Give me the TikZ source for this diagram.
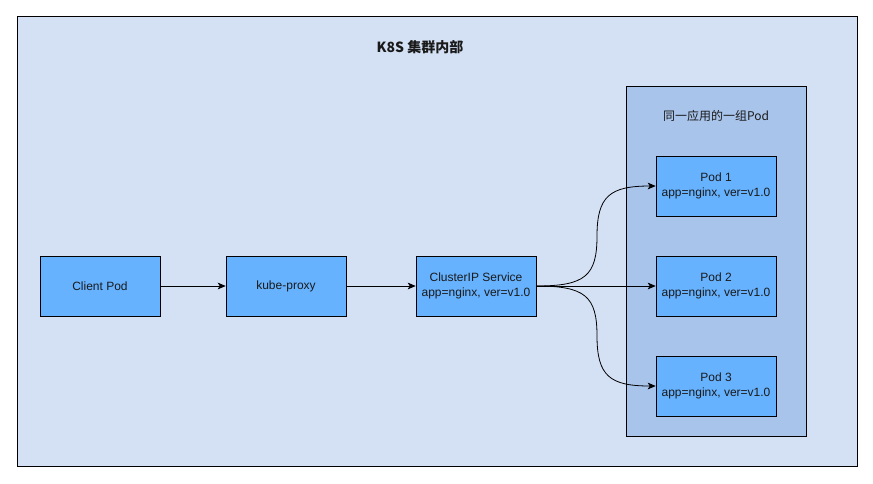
\documentclass[tikz,border=0pt]{standalone}
\usepackage{fontspec}
\setmainfont{Liberation Sans}
\newfontfamily\cjk{Noto Sans CJK SC}
\usetikzlibrary{arrows.meta}
\definecolor{clusterbg}{HTML}{D4E1F5}
\definecolor{groupbg}{HTML}{A9C4EB}
\definecolor{boxbg}{HTML}{66B2FF}
\definecolor{txt}{HTML}{1A1A1A}
\begin{document}
\begin{tikzpicture}[x=0.75pt, y=-0.75pt,  % k8s cluster
        box/.style={draw=black, fill=boxbg, minimum width=90pt, minimum height=45pt,
            align=center, text=txt, font=\fontsize{9}{11}\selectfont, inner sep=0pt},
        link/.style={-{Stealth[length=6pt,width=5pt,inset=1.5pt]}, line width=0.6pt}]
        \useasboundingbox (0,0) rectangle (873,483);
        \fill[white] (0,0) rectangle (873,483);
        \draw[fill=clusterbg, line width=0.75pt] (17,16) rectangle (857,466);
        \node[font=\cjk\bfseries\fontsize{10.5}{12}\selectfont, text=txt] (title) at (420,47) {K8S 集群内部};
        \draw[fill=groupbg, line width=0.75pt] (626,86) rectangle (806,436);
        \node[font=\cjk\fontsize{9}{11}\selectfont, text=txt] (grp) at (716,116) {同一应用的一组Pod};

        \node[box] (client) at (100,286) {Client Pod};
        \node[box] (proxy) at (286,286) {kube-proxy};
        \node[box] (svc) at (476,286) {ClusterIP Service\\app=nginx, ver=v1.0};
        \node[box] (pod1) at (716,186) {Pod 1\\app=nginx, ver=v1.0};
        \node[box] (pod2) at (716,286) {Pod 2\\app=nginx, ver=v1.0};
        \node[box] (pod3) at (716,386) {Pod 3\\app=nginx, ver=v1.0};

        \draw[link] (client) -- (proxy);
        \draw[link] (proxy) -- (svc);
        \draw[link] (svc.east) .. controls (585,286) and (597,276) .. (597,236)
            .. controls (597,196) and (610,186) .. (pod1.west);
        \draw[link] (svc) -- (pod2);
        \draw[link] (svc.east) .. controls (585,286) and (597,296) .. (597,336)
            .. controls (597,376) and (610,386) .. (pod3.west);
    \end{tikzpicture}
\end{document}
